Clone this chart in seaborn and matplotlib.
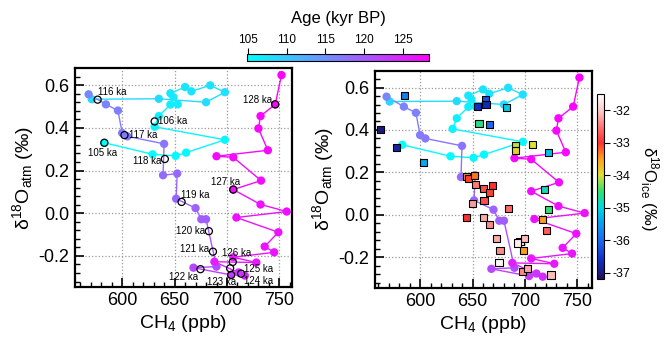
import numpy as np
import pandas as pd
import matplotlib
matplotlib.use("Agg")
import matplotlib.pyplot as plt
import matplotlib.cm as cm
from matplotlib.colors import LinearSegmentedColormap, Normalize
from matplotlib.ticker import MultipleLocator, FormatStrFormatter
import seaborn as sns

# ---------------- data ----------------
# continuous record (ordered by age)
path_ch4 = [583, 629, 651, 661, 698, 631, 635, 646, 653, 649, 646, 660, 666, 684, 698, 680, 635, 571,
            568, 584.5, 596, 600, 605, 640, 639, 652.5, 651.5, 670, 675.5, 680, 690, 668,
            704, 711, 717, 688, 728, 706, 745, 736, 749, 709, 757, 732, 706, 732.5, 706, 690, 739, 730, 732, 746, 752]
path_d18o = [0.330, 0.276, 0.269, 0.284, 0.344, 0.405, 0.455, 0.509, 0.510, 0.543, 0.562, 0.591, 0.571, 0.599, 0.567, 0.520, 0.536, 0.534,
             0.557, 0.510, 0.481, 0.376, 0.360, 0.325, 0.178, 0.186, 0.068, 0.024, -0.028, -0.028, -0.250, -0.255,
             -0.289, -0.277, -0.292, -0.227, -0.231, -0.206, -0.183, -0.156, -0.089, -0.020, 0.008, 0.041, 0.111, 0.153, 0.262, 0.267, 0.295, 0.397, 0.455, 0.510, 0.647]
path_age = [105.0, 105.2, 105.4, 105.5, 105.7, 105.9, 106.2, 106.4, 106.6, 106.8, 107.0, 107.2, 107.4, 107.6, 107.8, 108.0, 108.2, 108.4,
            115.8, 116.3, 116.6, 116.9, 117.1, 117.6, 118.4, 118.6, 118.85, 119.3, 119.5, 119.7, 121.3, 121.7,
            123.0, 123.5, 124.3, 125.6, 126.2, 126.35, 126.45, 126.55, 126.65, 126.75, 126.82, 126.9, 127.0, 127.2, 127.4, 127.5, 127.6, 127.7, 127.85, 128.0, 128.2]

# kyr markers (open circles)
kyr_age = [105, 106, 116, 117, 118, 119, 120, 121, 122, 123, 124, 125, 126, 127, 128]
kyr_ch4 = [583, 631, 576.6, 602.2, 640.7, 656.7, 682.7, 686.6, 674.7, 704, 713.5, 703, 705.5, 706, 746]
kyr_d18o = [0.330, 0.430, 0.532, 0.366, 0.254, 0.053, -0.084, -0.180, -0.262, -0.289, -0.283, -0.258, -0.228, 0.111, 0.510]

# ice-core d18O samples (squares, right panel)
sq_ch4 = [562.5, 577.8, 584.7, 603.2, 655.0, 662.0, 662.9, 666.0, 656.2, 682.0, 691.2, 690.6, 707.4, 722.3,
          718.5, 722.3, 717.0, 720.8, 644.5, 646.0, 651.8, 653.0, 660.4, 669.3, 665.8, 661.0, 650.2, 684.2,
          644.5, 660.4, 666.0, 673.1, 676.2, 675.3, 695.3, 699.5, 693.0, 698.5, 697.6, 702.3, 724.9]
sq_d18o_atm = [0.403, 0.317, 0.564, 0.247, 0.512, 0.544, 0.522, 0.427, 0.431, 0.505, 0.325, 0.303, 0.330, 0.295,
               0.120, 0.023, -0.023, -0.073, 0.180, 0.172, 0.184, 0.144, 0.125, 0.136, 0.105, 0.067, 0.055, 0.031,
               -0.013, -0.013, -0.044, -0.113, -0.167, -0.227, -0.125, -0.114, -0.133, -0.167, -0.266, -0.253, -0.284]
sq_d18o_ice = [-37.0, -36.8, -35.8, -35.4, -36.6, -36.2, -36.7, -36.0, -34.6, -35.1, -34.1, -33.9, -34.0, -35.2,
               -34.8, -34.5, -33.5, -32.7, -33.4, -33.1, -33.3, -32.5, -32.8, -33.0, -33.1, -32.8, -32.3, -32.6,
               -33.0, -32.2, -32.4, -32.2, -32.4, -31.6, -31.6, -32.1, -31.7, -33.5, -32.4, -32.2, -32.1]

age_ticks = [105, 110, 115, 120, 125]
ice_ticks = [-37, -36, -35, -34, -33, -32]

# ---------------- style ----------------
sns.set_theme(style="white")
plt.rcParams["font.family"] = ["Liberation Sans", "DejaVu Sans"]
plt.rcParams["mathtext.fontset"] = "custom"
plt.rcParams["mathtext.rm"] = "Liberation Sans"
plt.rcParams["mathtext.it"] = "Liberation Sans:italic"
plt.rcParams["mathtext.bf"] = "Liberation Sans:bold"
plt.rcParams["axes.unicode_minus"] = False
for key in ["text.color", "axes.labelcolor", "xtick.color", "ytick.color", "axes.edgecolor"]:
    plt.rcParams[key] = "black"

age_norm = Normalize(104.8, 128.4)
age_cmap = plt.get_cmap("cool")
ice_norm = Normalize(-37.2, -31.5)
ice_cmap = LinearSegmentedColormap.from_list("ice", [
    (0.000, "#22105e"), (0.105, "#1030c8"), (0.2105, "#1a6cf0"), (0.316, "#08a8f0"),
    (0.386, "#00d8e0"), (0.474, "#30e070"), (0.561, "#dde034"), (0.649, "#ffa020"),
    (0.737, "#ff3030"), (0.825, "#ff7676"), (0.912, "#ffcaca"), (1.000, "#ffffff")])

path_df = pd.DataFrame({"ch4": path_ch4, "d18o": path_d18o, "age": path_age})
kyr_df = pd.DataFrame({"ch4": kyr_ch4, "d18o": kyr_d18o, "age": kyr_age})
sq_df = pd.DataFrame({"ch4": sq_ch4, "d18o": sq_d18o_atm, "ice": sq_d18o_ice})

fig = plt.figure(figsize=(6.66, 3.39), dpi=100)
axL = fig.add_axes([0.1126, 0.1543, 0.3258, 0.6437])
axR = fig.add_axes([0.5631, 0.1513, 0.3258, 0.6392])


def draw_path(ax):
    for i in range(len(path_df) - 1):
        a = 0.5 * (path_df.age[i] + path_df.age[i + 1])
        ax.plot(path_df.ch4[i:i + 2], path_df.d18o[i:i + 2], color=age_cmap(age_norm(a)), lw=1.0, zorder=2)
    sns.scatterplot(data=path_df, x="ch4", y="d18o", hue="age", palette="cool", hue_norm=age_norm,
                    s=36, edgecolor="none", linewidth=0, legend=False, ax=ax, zorder=3)


def style_axes(ax, xlim):
    ax.set_xlim(*xlim)
    ax.set_ylim(-0.344, 0.678)
    ax.xaxis.set_major_locator(MultipleLocator(50))
    ax.xaxis.set_minor_locator(MultipleLocator(10))
    ax.yaxis.set_major_locator(MultipleLocator(0.2))
    ax.yaxis.set_minor_locator(MultipleLocator(0.04))
    ax.yaxis.set_major_formatter(FormatStrFormatter("%.1f"))
    ax.tick_params(which="both", direction="in", top=False, right=False, bottom=True, left=True,
                   colors="black", labelcolor="black", labelsize=13)
    ax.tick_params(which="major", length=6.5, width=1.2, pad=4)
    ax.tick_params(which="minor", length=3.5, width=1.0)
    ax.grid(True, which="major", ls=":", color="#9a9a9a", lw=0.9)
    for sp in ax.spines.values():
        sp.set_color("black")
        sp.set_linewidth(1.6)
    ax.set_xlabel("CH$_4$ (ppb)", fontsize=14, labelpad=3, color="black")
    ax.set_ylabel("δ$^{18}$O$_{\\rm atm}$ (‰)", fontsize=14, labelpad=2, color="black")
    ax.set_axisbelow(True)


draw_path(axL)
sns.scatterplot(data=kyr_df, x="ch4", y="d18o", s=26, facecolor="none", edgecolor="black",
                linewidth=0.9, legend=False, ax=axL, zorder=4)

label_pos = [(581, 0.281, "center"), (634, 0.430, "left"), (577, 0.566, "left"), (606.5, 0.368, "left"),
             (637.5, 0.245, "right"), (656, 0.087, "left"), (679, -0.081, "right"), (682.5, -0.168, "right"),
             (672, -0.300, "right"), (695, -0.320, "center"), (716, -0.317, "left"), (716, -0.261, "left"),
             (695, -0.184, "left"), (685, 0.145, "left"), (743.5, 0.530, "right")]
for a, (lx, ly, ha) in zip(kyr_age, label_pos):
    axL.text(lx, ly, f"{a} ka", ha=ha, va="center", fontsize=7, color="black", zorder=5)

draw_path(axR)
sns.scatterplot(data=sq_df, x="ch4", y="d18o", hue="ice", palette=ice_cmap, hue_norm=ice_norm,
                marker="s", s=26, edgecolor="black", linewidth=0.8, legend=False, ax=axR, zorder=4)

style_axes(axL, (555, 762))
style_axes(axR, (557, 764))

# age colorbar (top)
cax1 = fig.add_axes([0.3704, 0.820, 0.2737, 0.0206])
cb1 = fig.colorbar(cm.ScalarMappable(norm=age_norm, cmap=age_cmap), cax=cax1, orientation="horizontal")
cb1.set_ticks(age_ticks)
cax1.xaxis.set_ticks_position("top")
cax1.xaxis.set_label_position("top")
cax1.tick_params(labelsize=8.5, length=4, width=0.8, direction="out", pad=1.5, colors="black")
cb1.outline.set_linewidth(0.8)
cb1.outline.set_edgecolor("black")
fig.text(338 / 666, 1 - 18 / 339, "Age (kyr BP)", ha="center", va="center", fontsize=12, color="black")

# ice colorbar (right)
cax2 = fig.add_axes([0.896, 0.177, 0.011, 0.5457])
cb2 = fig.colorbar(cm.ScalarMappable(norm=ice_norm, cmap=ice_cmap), cax=cax2, orientation="vertical")
cb2.set_ticks(ice_ticks)
cax2.tick_params(labelsize=9, length=4, width=0.8, direction="out", pad=2, colors="black")
cb2.outline.set_linewidth(0.8)
cb2.outline.set_edgecolor("black")
fig.text(649 / 666, 1 - 188 / 339, "δ$^{18}$O$_{\\rm ice}$ (‰)", ha="center", va="center",
         rotation=270, fontsize=12, color="black")

fig.savefig("out.png", dpi=100)
